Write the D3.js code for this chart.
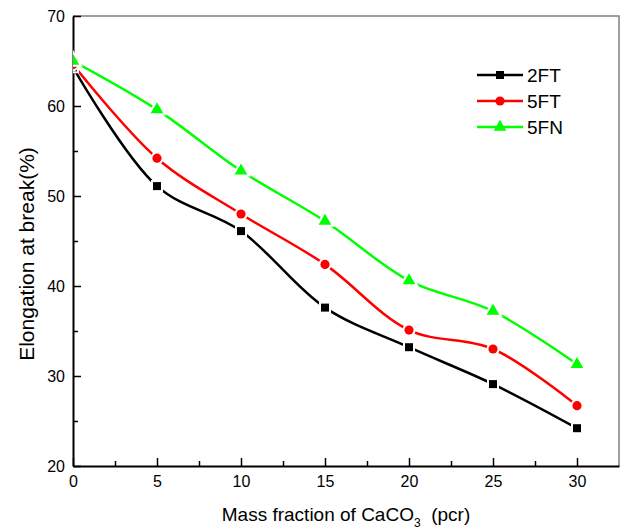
<!DOCTYPE html>
<html>
<head>
<meta charset="utf-8">
<script src="https://cdn.jsdelivr.net/npm/d3@7"></script>
<style>
  body { margin: 0; background: #fff; }
  text { font-family: "Liberation Sans", Arial, sans-serif; }
</style>
</head>
<body>
<div id="chart"></div>
<script>
// values
const massFraction = [0, 5, 10, 15, 20, 25, 30];
const elong2FT = [64.3, 51.1, 46.1, 37.6, 33.2, 29.1, 24.2];
const elong5FT = [64.6, 54.2, 48.0, 42.4, 35.1, 33.0, 26.7];
const elong5FN = [65.0, 59.6, 52.8, 47.2, 40.6, 37.2, 31.3];
const seriesNames = ['2FT', '5FT', '5FN'];
const seriesColors = ['#000000', '#ff0000', '#00ff00'];
const xTicks = [0, 5, 10, 15, 20, 25, 30];
const xMinorTicks = [2.5, 7.5, 12.5, 17.5, 22.5, 27.5];
const yTicks = [20, 30, 40, 50, 60, 70];
const yMinorTicks = [25, 35, 45, 55, 65];

const width = 623;
const height = 532;
const margin = { top: 16, right: 4, bottom: 66, left: 73 };
const innerW = width - margin.left - margin.right;
const innerH = height - margin.top - margin.bottom;

const series = [elong2FT, elong5FT, elong5FN].map((vals, i) => ({
  name: seriesNames[i],
  color: seriesColors[i],
  symbol: [d3.symbolSquare, d3.symbolCircle, d3.symbolTriangle][i],
  size: [64, 66, 70][i],
  points: vals.map((v, j) => ({ x: massFraction[j], y: v }))
}));

const svg = d3.select('#chart')
  .append('svg')
  .attr('width', width)
  .attr('height', height);

const g = svg.append('g')
  .attr('transform', `translate(${margin.left},${margin.top})`);

const xScale = d3.scaleLinear().domain([0, 32.5]).range([0, innerW]);
const yScale = d3.scaleLinear().domain([20, 70]).range([innerH, 0]);

// clip so the markers at x = 0 are cut by the axis
g.append('clipPath').attr('id', 'plot-clip')
  .append('rect')
  .attr('width', innerW)
  .attr('height', innerH);

// top and right frame (grey)
g.append('path')
  .attr('d', `M0,0H${innerW}V${innerH}`)
  .attr('fill', 'none')
  .attr('stroke', '#808080')
  .attr('stroke-width', 1.5);

// Axes, ticks pointing inward
const xAxis = g.append('g')
  .attr('transform', `translate(0,${innerH})`)
  .call(d3.axisBottom(xScale).tickValues(xTicks).tickSizeInner(-8).tickSizeOuter(0).tickPadding(10));
g.append('g')
  .attr('transform', `translate(0,${innerH})`)
  .call(d3.axisBottom(xScale).tickValues(xMinorTicks).tickSizeInner(-5).tickSizeOuter(0).tickFormat(''))
  .call((a) => a.select('.domain').remove());

const yAxis = g.append('g')
  .call(d3.axisLeft(yScale).tickValues(yTicks).tickSizeInner(-8).tickSizeOuter(0).tickPadding(14));
g.append('g')
  .call(d3.axisLeft(yScale).tickValues(yMinorTicks).tickSizeInner(-5).tickSizeOuter(0).tickFormat(''))
  .call((a) => a.select('.domain').remove());

g.selectAll('.domain').attr('stroke', '#000').attr('stroke-width', 2);
g.selectAll('.tick line').attr('stroke', '#000').attr('stroke-width', 1.5);
xAxis.selectAll('text').attr('font-size', 16).attr('fill', '#000');
yAxis.selectAll('text').attr('font-size', 16).attr('fill', '#000')
  .attr('dx', 6);

// Draw the spline lines
const line = d3.line()
  .x((d) => xScale(d.x))
  .y((d) => yScale(d.y))
  .curve(d3.curveCatmullRom.alpha(0.5));

const plot = g.append('g').attr('clip-path', 'url(#plot-clip)');

series.forEach((s) => {
  plot.append('path')
    .datum(s.points)
    .attr('d', line)
    .attr('fill', 'none')
    .attr('stroke', s.color)
    .attr('stroke-width', 2.5);
});

// Markers with a white halo that cuts the line
series.forEach((s) => {
  const sym = d3.symbol().type(s.symbol).size(s.size);
  const mk = plot.append('g');
  mk.selectAll('path.halo')
    .data(s.points)
    .enter()
    .append('path')
    .attr('class', 'halo')
    .attr('transform', (d) => `translate(${xScale(d.x)},${yScale(d.y)})`)
    .attr('d', sym)
    .attr('fill', '#fff')
    .attr('stroke', '#fff')
    .attr('stroke-width', 4);
  mk.selectAll('path.mark')
    .data(s.points)
    .enter()
    .append('path')
    .attr('class', 'mark')
    .attr('transform', (d) => `translate(${xScale(d.x)},${yScale(d.y)})`)
    .attr('d', sym)
    .attr('fill', s.color);
});

// Legend
const legend = g.append('g').attr('transform', `translate(${innerW - 142},59)`);
series.forEach((s, i) => {
  const row = legend.append('g').attr('transform', `translate(0,${i * 26})`);
  row.append('line')
    .attr('x1', 0).attr('x2', 46)
    .attr('stroke', s.color)
    .attr('stroke-width', 2.5);
  row.append('path')
    .attr('transform', 'translate(23,0)')
    .attr('d', d3.symbol().type(s.symbol).size(s.size))
    .attr('fill', s.color);
  row.append('text')
    .attr('x', 50)
    .attr('dy', '0.36em')
    .attr('font-size', 19)
    .text(s.name);
});

// Axis titles
const xTitle = svg.append('text')
  .attr('x', margin.left + innerW / 2)
  .attr('y', height - 11)
  .attr('text-anchor', 'middle')
  .attr('font-size', 19);
xTitle.append('tspan').text('Mass fraction of CaCO');
xTitle.append('tspan').attr('font-size', 12).attr('dy', 6).text('3');
xTitle.append('tspan').attr('dy', -6).text('\u00a0\u00a0(pcr)');

svg.append('text')
  .attr('transform', 'translate(34,254) rotate(-90)')
  .attr('text-anchor', 'middle')
  .attr('font-size', 21)
  .text('Elongation at break(%)');
</script>
</body>
</html>
